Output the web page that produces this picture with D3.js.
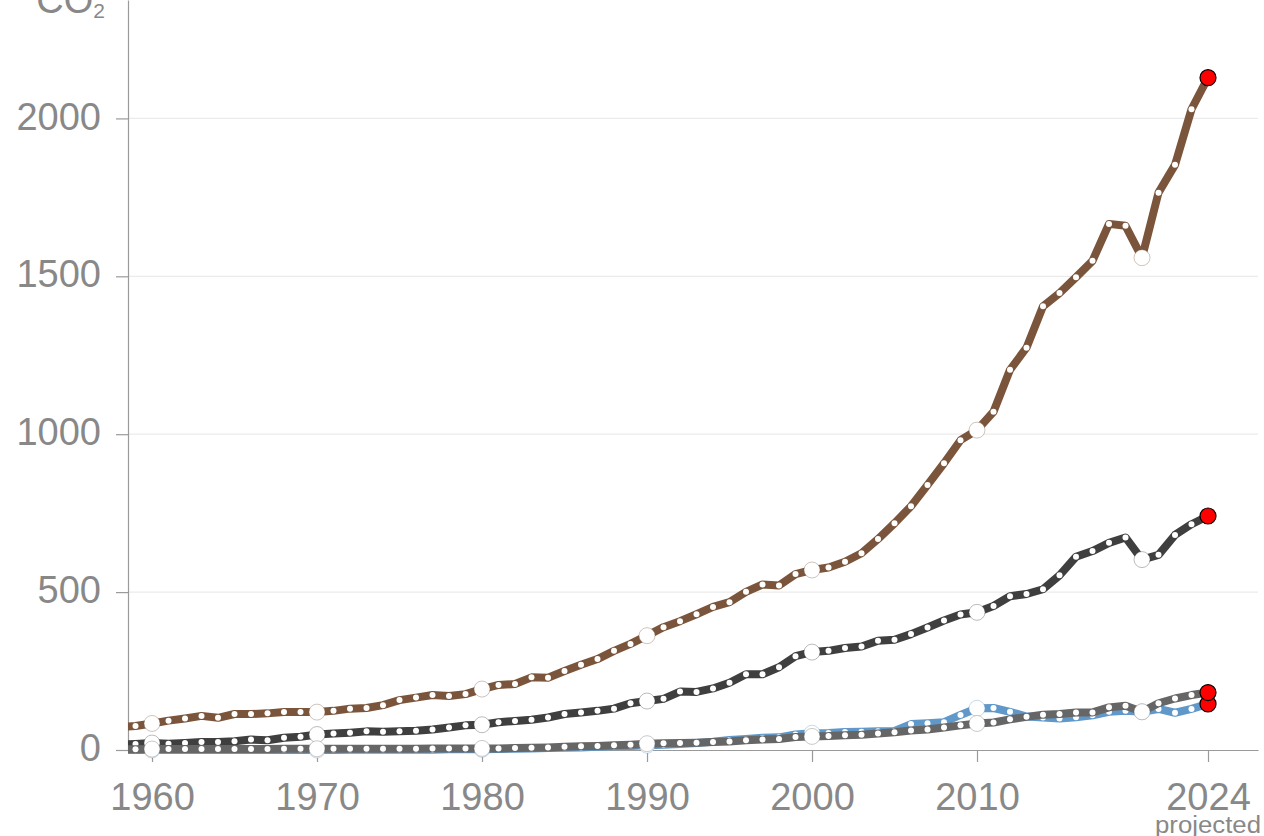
<!DOCTYPE html>
<html>
<head>
<meta charset="utf-8">
<script src="https://cdn.jsdelivr.net/npm/d3@7"></script>
<style>
  html, body { margin: 0; padding: 0; background: #fff; }
  svg { display: block; font-family: "Liberation Sans", Arial, Helvetica, sans-serif; }
</style>
</head>
<body>
<svg id="chart" width="1264" height="836"></svg>
<script>
// ---- data ----
const years = d3.range(1958, 2025);
const coal = [72,76,84,93,100,108,102,114,114,116,120,120,120,124,131,133,142,158,166,174,171,177,
  193,206,209,230,229,250,270,288,314,336,362,389,408,430,453,468,501,524,521,557,
  570,578,596,623,668,718,772,839,908,981,1013,1071,1204,1274,1405,1447,1497,1549,1666,1660,
  1559,1765,1853,2029,2129];
const oil = [17,19,22,20,22,25,25,28,33,31,39,42,49,52,55,59,58,59,61,65,71,78,
  80,88,92,96,103,114,119,124,131,148,155,162,185,184,195,213,240,240,262,297,
  310,314,323,328,346,349,367,388,410,429,436,456,487,494,509,553,612,630,656,673,
  603,618,681,715,741];
const cement = [2,2,3,3,3,3,3,3,3,3,4,4,4,4,4,4,4,4,4,5,5,5,
  5,5,6,7,8,10,12,13,15,17,20,21,22,23,25,27,31,33,35,41,
  43,44,47,48,52,56,62,65,71,78,84,87,97,105,112,114,119,119,135,140,
  121,148,163,174,182];
const gas = [0,0,0,0,0,0,0,0,0,0,0,0,0,0,1,1,1,1,1,1,2,2,
  2,3,4,5,6,7,8,10,12,13,15,17,19,22,26,32,35,39,40,49,
  53,54,57,58,59,60,82,85,88,111,132,133,121,106,103,100,104,110,121,124,
  121,130,118,130,146];
const seriesColors = {coal: "#7a553b", oil: "#3f3f3f", cement: "#666666", gas: "#5f98c9"};
const seriesValues = {coal: coal, oil: oil, cement: cement, gas: gas};
const drawOrder = ["coal", "oil", "gas", "cement"];
const decadeYears = [1960, 1970, 1980, 1990, 2000, 2010, 2020];
const projectedYear = 2024;
const xTickValues = [1960, 1970, 1980, 1990, 2000, 2010, 2024];
const yTickValues = [0, 500, 1000, 1500, 2000];
const yLabel = "CO";
const ySub = "2";
const projectedLabel = "projected";

// ---- layout ----
const svg = d3.select("#chart");
const mLeft = 128, mRight = 1258, mBottom = 750, mTop = 0;
const x = d3.scaleLinear().domain([1958.545, 2027.03]).range([mLeft, mRight]);
const y = d3.scaleLinear().domain([0, 2375]).range([mBottom, mTop]);
const textColor = "#888888";
const axisColor = "#9a9a9a";

svg.append("defs").append("clipPath").attr("id", "plotclip")
  .append("rect").attr("x", mLeft).attr("y", -20).attr("width", mRight - mLeft + 20).attr("height", mBottom + 40);

// gridlines
svg.append("g").selectAll("line").data(yTickValues.filter(d => d > 0)).join("line")
  .attr("x1", mLeft).attr("x2", mRight)
  .attr("y1", d => y(d)).attr("y2", d => y(d))
  .attr("stroke", "#ebebeb").attr("stroke-width", 1.2);

// axes
const yAxis = d3.axisLeft(y).tickValues(yTickValues).tickSize(12).tickSizeOuter(0).tickPadding(15)
  .tickFormat(d3.format("d"));
const gy = svg.append("g").attr("transform", `translate(${mLeft},0)`).call(yAxis);
const xAxis = d3.axisBottom(x).tickValues(xTickValues).tickSize(12).tickSizeOuter(0).tickPadding(21)
  .tickFormat(d3.format("d"));
const gx = svg.append("g").attr("transform", `translate(0,${mBottom})`).call(xAxis);
[gx, gy].forEach(g => {
  g.select(".domain").attr("stroke", axisColor).attr("stroke-width", 1.2);
  g.selectAll(".tick line").attr("stroke", axisColor).attr("stroke-width", 1.2);
  g.selectAll(".tick text").attr("fill", textColor).attr("font-size", 38)
    .attr("font-family", "'Liberation Sans', Arial, Helvetica, sans-serif");
});
gy.selectAll(".tick text").attr("dy", "0.28em");

// projected label
svg.append("text")
  .attr("x", x(projectedYear)).attr("y", 833)
  .attr("text-anchor", "middle")
  .attr("font-size", 23).attr("fill", textColor)
  .attr("textLength", 106).attr("lengthAdjust", "spacingAndGlyphs")
  .text(projectedLabel);

// y label
const yl = svg.append("text").attr("x", 105).attr("y", 13).attr("text-anchor", "end")
  .attr("fill", textColor).attr("font-size", 38);
yl.append("tspan").text(yLabel);
yl.append("tspan").attr("font-size", 21).attr("dy", 5).text(ySub);

// lines
const plot = svg.append("g").attr("clip-path", "url(#plotclip)");
const line = d3.line().x(d => x(d.year)).y(d => y(d.value));

drawOrder.forEach(name => {
  const vals = seriesValues[name];
  const data = years.map((yr, i) => ({year: yr, value: vals[i]}));
  const color = seriesColors[name];
  const g = plot.append("g");
  g.append("path").datum(data)
    .attr("d", line).attr("fill", "none")
    .attr("stroke", color).attr("stroke-width", 8)
    .attr("stroke-linejoin", "round");
  g.selectAll("circle.small")
    .data(data.filter(d => !decadeYears.includes(d.year) && d.year !== projectedYear))
    .join("circle").attr("class", "small")
    .attr("cx", d => x(d.year)).attr("cy", d => y(d.value)).attr("r", 3)
    .attr("fill", "#fff");
  g.selectAll("circle.big")
    .data(data.filter(d => decadeYears.includes(d.year)))
    .join("circle").attr("class", "big")
    .attr("cx", d => x(d.year)).attr("cy", d => y(d.value)).attr("r", 8)
    .attr("fill", "#fff").attr("stroke", color).attr("stroke-opacity", 0.35).attr("stroke-width", 1);
  g.selectAll("circle.proj")
    .data(data.filter(d => d.year === projectedYear))
    .join("circle").attr("class", "proj")
    .attr("cx", d => x(d.year)).attr("cy", d => y(d.value)).attr("r", 8)
    .attr("fill", "#ff0000").attr("stroke", "#000").attr("stroke-width", 1.2);
});
</script>
</body>
</html>
